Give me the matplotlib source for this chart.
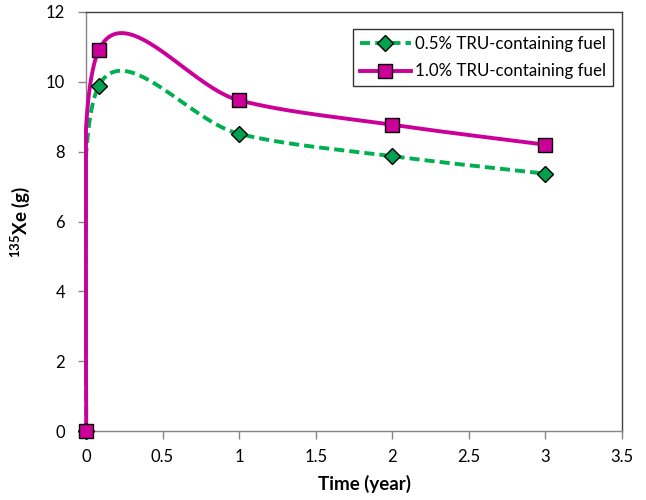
import numpy as np
import matplotlib
matplotlib.use("Agg")
import matplotlib.pyplot as plt

plt.rcParams['font.family'] = ['Lato', 'DejaVu Sans']
plt.rcParams['mathtext.fontset'] = 'custom'
plt.rcParams['mathtext.rm'] = 'Lato'
plt.rcParams['mathtext.bf'] = 'Lato:bold'

time_years = [0, 0.083, 1, 2, 3]
xe_05 = [0, 9.88, 8.51, 7.87, 7.37]
xe_10 = [0, 10.9, 9.47, 8.77, 8.2]
labels = ["0.5% TRU-containing fuel", "1.0% TRU-containing fuel"]


def excel_smooth(x, y, n=80):
    # Bezier smoothing like Excel's "smoothed line" (Catmull-Rom control points)
    p = np.column_stack([x, y]).astype(float)
    pts = np.vstack([p[0], p, p[-1]])
    out = []
    for i in range(1, len(pts) - 2):
        p0, p1, p2, p3 = pts[i - 1], pts[i], pts[i + 1], pts[i + 2]
        c1 = p1 + (p2 - p0) / 6.0
        c2 = p2 - (p3 - p1) / 6.0
        t = np.linspace(0, 1, n)[:, None]
        seg = ((1 - t) ** 3) * p1 + 3 * ((1 - t) ** 2) * t * c1 + 3 * (1 - t) * t ** 2 * c2 + t ** 3 * p2
        out.append(seg)
    c = np.vstack(out)
    # keep the curve from dipping left of the axis
    return np.maximum(c[:, 0], min(x)), c[:, 1]


fig = plt.figure(figsize=(6.46, 5.0), dpi=100)
ax = fig.add_axes([0.1331, 0.138, 0.8297, 0.838])

green = '#00B050'
green_mk = '#00A050'
magenta = '#CC0099'

sx, sy = excel_smooth(time_years, xe_05)
ax.plot(sx, sy, color=green, lw=2.8, dashes=(2.6, 1.3), zorder=3, clip_on=False)
ax.plot(time_years, xe_05, ls='none', marker='D', ms=8.5, mfc=green_mk,
        mec='black', mew=1.0, zorder=4, clip_on=False)

sx, sy = excel_smooth(time_years, xe_10)
ax.plot(sx, sy, color=magenta, lw=2.8, zorder=3, clip_on=False)
ax.plot(time_years, xe_10, ls='none', marker='s', ms=10, mfc=magenta,
        mec='black', mew=1.0, zorder=4, clip_on=False)

# legend proxies
h1, = ax.plot([], [], color=green, lw=2.8, dashes=(2.6, 1.3), marker='D', ms=8.5,
              mfc=green_mk, mec='black', mew=1.0)
h2, = ax.plot([], [], color=magenta, lw=2.8, marker='s', ms=10, mfc=magenta,
              mec='black', mew=1.0)
leg = ax.legend([h1, h2], labels, loc='upper right', bbox_to_anchor=(0.983, 0.959),
                fontsize=12.2, frameon=True, fancybox=False, edgecolor='black',
                handlelength=3.0, handletextpad=0.25, borderpad=0.4, labelspacing=0.68,
                borderaxespad=0)
leg.get_frame().set_linewidth(1.0)

ax.set_xlim(0, 3.5)
ax.set_ylim(0, 12)
ax.set_xticks(np.arange(0, 3.51, 0.5))
ax.set_xticklabels(['0', '0.5', '1', '1.5', '2', '2.5', '3', '3.5'])
ax.set_yticks(np.arange(0, 12.1, 2))

for s in ['left', 'bottom']:
    ax.spines[s].set_color('#868686')
    ax.spines[s].set_linewidth(1.0)
for s in ['top', 'right']:
    ax.spines[s].set_color('#404040')
    ax.spines[s].set_linewidth(1.0)

ax.tick_params(axis='both', direction='out', length=6, width=1, color='#868686',
               labelsize=12)
ax.tick_params(axis='x', pad=7)
ax.tick_params(axis='y', pad=9)

ax.set_xlabel('Time (year)', fontsize=13.5, fontweight='bold', labelpad=10)
ax.xaxis.set_label_coords(0.519, -0.105)
ax.set_ylabel(r'$^{\mathbf{135}}$Xe (g)', fontsize=13.5, fontweight='bold', labelpad=10)

fig.savefig('out.png', dpi=100)
